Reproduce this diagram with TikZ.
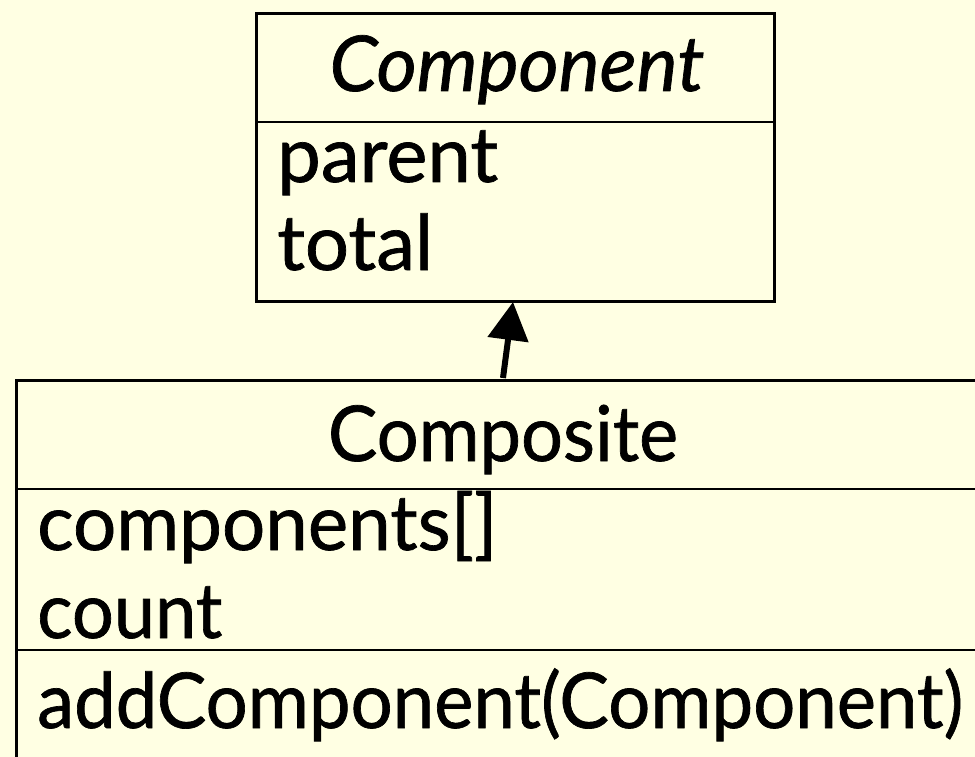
\documentclass[tikz,border=0pt]{standalone}
\usepackage{fontspec}
\setmainfont{Lato}[FakeBold=0.9]
\usetikzlibrary{arrows.meta}
\definecolor{bg}{RGB}{255,255,227}
\newcommand{\fitw}[2]{\resizebox{#1}{\height}{#2}}
\begin{document}
\begin{tikzpicture}[x=1pt,y=-1pt,
  box/.style={draw=black,line width=3pt,fill=bg,rectangle,inner sep=0pt},
  sep/.style={draw=black,line width=2.5pt},
  lbl/.style={inner sep=0pt,font=\fontsize{77}{82}\selectfont},
  inherit/.style={line width=6pt,-{Triangle[length=38pt,width=40pt]}}]
\fill[bg] (0,0) rectangle (975,757);
\useasboundingbox (0,0) rectangle (975,757);
\begin{scope}
\clip (0,0) rectangle (975,757);
% Component class
\node[box, minimum width=518pt, minimum height=288pt, anchor=north west] (compbox) at (255,12) {};
\draw[sep] (compbox.west |- 0,122) -- (compbox.east |- 0,122);
\node[lbl, anchor=base] (compname) at (517,91) {\fitw{375pt}{\itshape Component}};
\node[lbl, anchor=base west] (parent) at (277,182) {\fitw{221pt}{parent}};
\node[lbl, anchor=base west] (total) at (277,270) {\fitw{156pt}{total}};
% Composite class
\node[box, minimum width=1000pt, minimum height=420pt, anchor=north west] (cbox) at (15,379) {};
\draw[sep] (cbox.west |- 0,489) -- ([xshift=20pt]cbox.east |- 0,489);
\draw[sep] (cbox.west |- 0,650) -- ([xshift=20pt]cbox.east |- 0,650);
\node[lbl, anchor=base] (cname) at (503,461) {\fitw{350pt}{Composite}};
\node[lbl, anchor=base west] (comps) at (37,550) {\fitw{460pt}{components[]}};
\node[lbl, anchor=base west] (count) at (37,638) {\fitw{185pt}{count}};
\node[lbl, anchor=base west] (addc) at (37,728) {\fitw{926pt}{addComponent(Component)}};
% inheritance arrow
\coordinate (tail) at (503,378);
\coordinate (head) at (513,302);
\draw[inherit] (tail) -- (head);
\end{scope}
\end{tikzpicture}
\end{document}
